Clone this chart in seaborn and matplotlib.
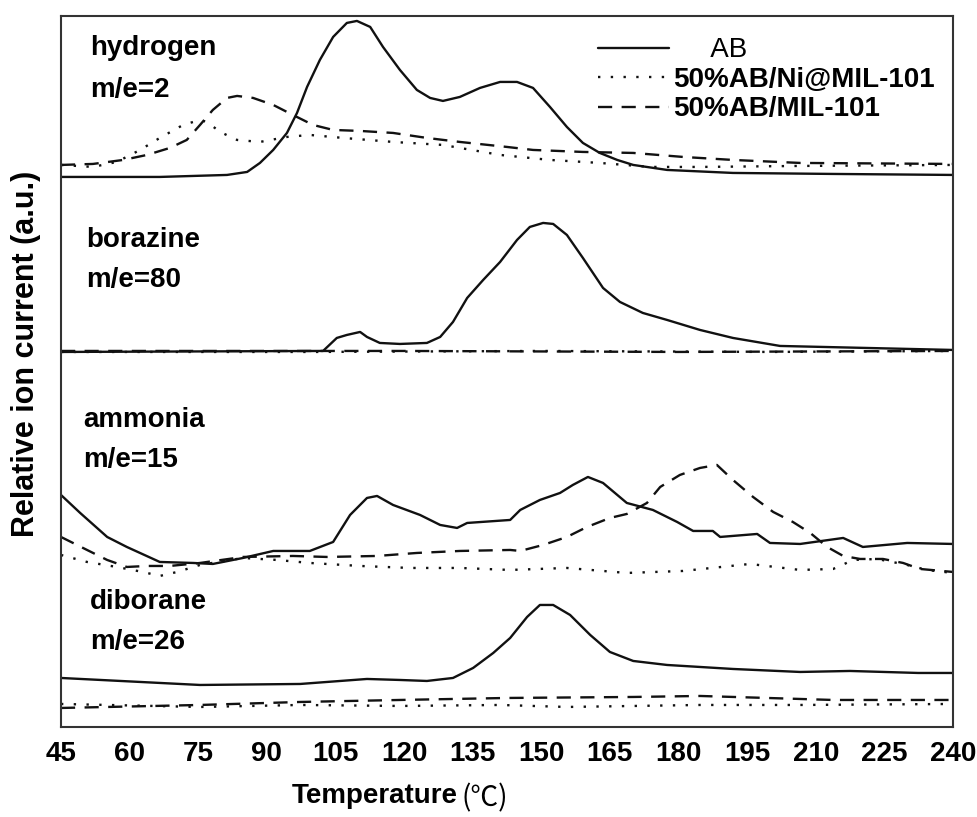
import numpy as np
import matplotlib
matplotlib.use("Agg")
import matplotlib.pyplot as plt
import pandas as pd
import seaborn as sns

# stacked MS traces (a.u., offsets already included)
samples = ["AB", "50%AB/Ni@MIL-101", "50%AB/MIL-101"]

hydrogen_ab_T = [45, 66.6, 81.3, 85.7, 88.5, 91.4, 94.4, 96.6, 98.8, 101.6, 104.5, 107.5, 109.7,
                 112.6, 115.4, 119.1, 122.8, 125.7, 128.5, 132.2, 136.6, 141.0, 144.7, 148.2,
                 151.9, 155.6, 159.1, 162.8, 166.6, 170.1, 177.5, 191.9, 213.8, 240]
hydrogen_ab = [550, 550, 552, 555, 564, 577, 594, 614, 640, 667, 690, 704, 706,
               700, 680, 657, 637, 629, 626, 630, 639, 645, 645, 639,
               620, 600, 584, 574, 567, 562, 557, 554, 553, 552]
hydrogen_ni_T = [45, 52.0, 57.2, 62.3, 66.6, 71.7, 75.4, 76.9, 79.8, 83.5, 88.5, 94.4, 99.4,
                 106.7, 117.6, 128.5, 141.0, 151.9, 162.8, 173.8, 184.7, 206.6, 240]
hydrogen_ni = [562, 560, 565, 577, 589, 602, 607, 605, 595, 587, 585, 590, 592,
               589, 585, 582, 572, 567, 564, 560, 560, 561, 562]
hydrogen_mil_T = [45, 52.0, 58.6, 63.8, 68.8, 72.5, 75.4, 78.2, 81.3, 83.5, 87.0, 91.4, 95.7,
                  100.1, 104.5, 110.4, 117.6, 125.0, 132.2, 142.5, 148.2, 159.1, 170.1, 181.0,
                  191.9, 206.6, 240]
hydrogen_mil = [562, 563, 567, 572, 579, 587, 602, 617, 629, 631, 629, 622, 612,
                602, 597, 596, 594, 589, 585, 580, 577, 575, 574, 570,
                567, 564, 563]

borazine_ab_T = [45, 102.3, 105.3, 107.5, 110.4, 111.9, 114.7, 119.1, 125.0, 127.9, 130.7, 133.8,
                 137.3, 141.0, 144.7, 147.5, 150.4, 152.6, 155.6, 159.1, 163.5, 167.2, 172.2,
                 177.5, 184.7, 191.9, 202.2, 240]
borazine_ab = [375, 376, 389, 392, 395, 390, 384, 383, 384, 390, 405, 429,
               447, 465, 487, 500, 504, 503, 492, 469, 439, 425, 414,
               407, 397, 389, 381, 377]
borazine_ni_T = [45, 100, 150, 200, 240]
borazine_ni = [375, 375, 376, 375, 376]
borazine_mil_T = [45, 120, 180, 240]
borazine_mil = [376, 376, 375, 376]

ammonia_ab_T = [45, 49.2, 55.1, 59.4, 66.6, 73.9, 78.2, 84.8, 91.4, 99.4, 104.5, 108.2, 111.9,
                114.1, 117.6, 123.5, 127.9, 131.6, 133.8, 143.2, 145.4, 149.7, 154.1, 156.9,
                160.2, 163.5, 168.7, 174.4, 179.7, 183.2, 187.5, 189.1, 197.2, 200.0, 206.6,
                216.0, 220.3, 230.0, 240]
ammonia_ab = [232, 214, 190, 180, 165, 164, 163, 169, 176, 176, 185, 212, 229,
              231, 222, 212, 202, 199, 204, 207, 217, 227, 234, 242,
              250, 244, 224, 217, 205, 196, 196, 190, 193, 184, 183,
              189, 180, 184, 183]
ammonia_ni_T = [45, 50.7, 57.2, 62.9, 66.6, 70.4, 75.4, 84.8, 92.2, 99.4, 110.4, 121.3, 132.2,
                143.2, 155.6, 168.7, 181.0, 195.6, 206.6, 213.8, 218.2, 223.4, 230.0, 234.3, 240]
ammonia_ni = [172, 165, 160, 155, 151, 155, 162, 169, 167, 164, 161, 159, 159,
              157, 159, 154, 156, 163, 157, 158, 167, 168, 162, 157, 154]
ammonia_mil_T = [45, 50.7, 55.1, 59.4, 63.8, 68.8, 75.4, 84.8, 95.7, 103.2, 114.1, 122.8, 132.2,
                 143.2, 145.4, 150.4, 155.6, 160.0, 165.0, 168.7, 173.1, 176.0, 180.3, 184.7,
                 188.4, 191.9, 196.3, 200.7, 205.0, 208.8, 212.5, 216.0, 219.7, 224.7, 229.1,
                 232.8, 240]
ammonia_mil = [190, 177, 167, 160, 161, 161, 164, 170, 171, 170, 171, 174, 176,
               177, 176, 182, 190, 200, 209, 213, 224, 240, 252, 259,
               262, 247, 230, 215, 205, 194, 180, 171, 168, 168, 164,
               158, 155]

diborane_ab_T = [45, 75.4, 97.3, 111.9, 119.1, 125.0, 130.7, 135.1, 139.5, 143.2, 146.9, 149.7,
                 152.6, 156.3, 160.7, 165.0, 170.1, 177.5, 191.9, 206.6, 217.5, 232.4, 240]
diborane_ab = [49, 42, 43, 48, 47, 46, 49, 59, 74, 89, 110, 122,
               122, 112, 92, 75, 66, 62, 58, 55, 56, 54, 54]
diborane_ni_T = [45, 75.4, 97.3, 119.1, 141.0, 155.6, 184.7, 206.6, 240]
diborane_ni = [23, 20, 22, 21, 22, 20, 22, 22, 23]
diborane_mil_T = [45, 75.4, 97.3, 119.1, 142.5, 170.1, 184.7, 199.4, 213.8, 240]
diborane_mil = [19, 22, 25, 27, 29, 30, 31, 29, 27, 27]

gas_labels = {
    "hydrogen": ("hydrogen", "m/e=2", 51.3, 679, 637),
    "borazine": ("borazine", "m/e=80", 50.5, 487, 447),
    "ammonia": ("ammonia", "m/e=15", 49.8, 307, 267),
    "diborane": ("diborane", "m/e=26", 51.3, 125, 85),
}

curves = [
    ("hydrogen", samples[0], hydrogen_ab_T, hydrogen_ab),
    ("hydrogen", samples[1], hydrogen_ni_T, hydrogen_ni),
    ("hydrogen", samples[2], hydrogen_mil_T, hydrogen_mil),
    ("borazine", samples[0], borazine_ab_T, borazine_ab),
    ("borazine", samples[1], borazine_ni_T, borazine_ni),
    ("borazine", samples[2], borazine_mil_T, borazine_mil),
    ("ammonia", samples[0], ammonia_ab_T, ammonia_ab),
    ("ammonia", samples[1], ammonia_ni_T, ammonia_ni),
    ("ammonia", samples[2], ammonia_mil_T, ammonia_mil),
    ("diborane", samples[0], diborane_ab_T, diborane_ab),
    ("diborane", samples[1], diborane_ni_T, diborane_ni),
    ("diborane", samples[2], diborane_mil_T, diborane_mil),
]

df = pd.concat([pd.DataFrame({"T": t, "signal": v, "gas": g, "sample": s})
                for (g, s, t, v) in curves], ignore_index=True)

sns.set_theme(style="white")
plt.rcParams["font.family"] = ["Liberation Sans", "Noto Sans CJK SC", "DejaVu Sans"]
plt.rcParams["text.color"] = "black"
plt.rcParams["axes.labelcolor"] = "black"
plt.rcParams["xtick.color"] = "black"

fig = plt.figure(figsize=(9.77, 8.17), dpi=100)
ax = fig.add_axes([0.0624, 0.1102, 0.913, 0.8703])

sns.lineplot(data=df, x="T", y="signal", style="sample", units="gas", estimator=None,
             style_order=samples, dashes={samples[0]: "", samples[1]: (1, 4.4), samples[2]: (6, 4)},
             color="#111111", linewidth=1.7, ax=ax)

ax.set_xlim(45, 240)
ax.set_ylim(0, 711)
ax.set_xticks(np.arange(45, 241, 15))
ax.set_xticks(np.arange(52.5, 240, 15), minor=True)
ax.set_yticks([])
ax.tick_params(axis="x", which="major", direction="in", length=11, width=1.5,
               color="#222222", labelcolor="black", labelsize=20, pad=10)
ax.tick_params(axis="x", which="minor", direction="in", length=6, width=1.5, color="#222222")
for lab in ax.get_xticklabels():
    lab.set_fontweight("bold")
for sp in ax.spines.values():
    sp.set_visible(True)
    sp.set_linewidth(1.5)
    sp.set_color("#333333")

xl = ax.set_xlabel("Temperature", fontsize=20, fontweight="bold")
ax.xaxis.set_label_coords(0.3515, -0.079)
ax.annotate("(℃)", xy=(1.0, 0.42), xycoords=xl, xytext=(3, 0), textcoords="offset points",
            ha="left", va="center", fontsize=20, family=["Noto Sans CJK SC", "DejaVu Sans"],
            fontweight="normal")
ax.set_ylabel("Relative ion current (a.u.)", fontsize=22, fontweight="bold")
ax.yaxis.set_label_coords(-0.022, 0.525)

for name, (l1, l2, tx, y1, y2) in gas_labels.items():
    ax.text(tx, y1, l1, fontsize=20, fontweight="bold", ha="left", va="center")
    ax.text(tx, y2, l2, fontsize=20, fontweight="bold", ha="left", va="center")

handles, labels = ax.get_legend_handles_labels()
leg = ax.legend(handles, ["     AB", samples[1], samples[2]], loc="upper left",
                bbox_to_anchor=(0.602, 0.970), frameon=False, fontsize=20,
                handlelength=2.55, handletextpad=0.15, labelspacing=0.13,
                borderpad=0, borderaxespad=0)
for i, txt in enumerate(leg.get_texts()):
    txt.set_fontweight("normal" if i == 0 else "bold")

fig.savefig("out.png", dpi=100)
